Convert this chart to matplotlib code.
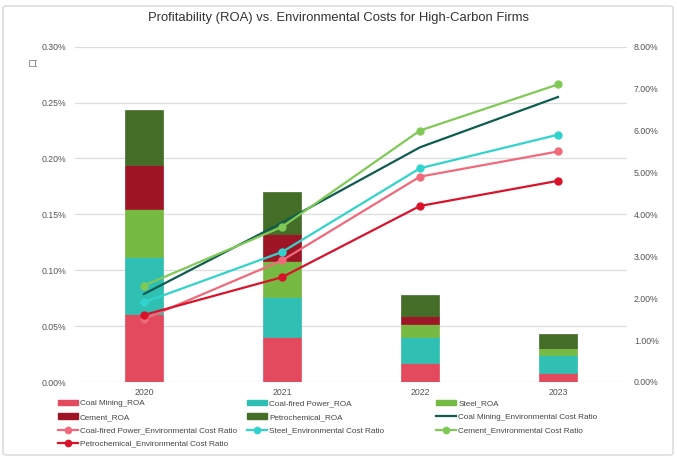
import matplotlib
matplotlib.use("Agg")
import matplotlib.pyplot as plt
from matplotlib.patches import Patch, FancyBboxPatch
from matplotlib.lines import Line2D
from matplotlib.ticker import FuncFormatter, MultipleLocator
import numpy as np

plt.rcParams['font.family'] = ['Liberation Sans', 'DejaVu Sans', 'Noto Sans CJK SC']

years = ["2020", "2021", "2022", "2023"]

# ROA (%), stacked bars, left axis
coal_mining_roa = [0.061, 0.040, 0.017, 0.008]
coal_fired_roa = [0.051, 0.036, 0.023, 0.016]
steel_roa = [0.043, 0.032, 0.012, 0.006]
cement_roa = [0.039, 0.024, 0.007, 0.000]
petro_roa = [0.049, 0.038, 0.019, 0.013]

# Environmental cost ratio (%), lines, right axis
coal_mining_ecr = [2.1, 3.8, 5.6, 6.8]
coal_fired_ecr = [1.5, 2.9, 4.9, 5.5]
steel_ecr = [1.9, 3.1, 5.1, 5.9]
cement_ecr = [2.3, 3.7, 6.0, 7.1]
petro_ecr = [1.6, 2.5, 4.2, 4.8]

bar_series = [
    ("Coal Mining_ROA", coal_mining_roa, "#E34A5E"),
    ("Coal-fired Power_ROA", coal_fired_roa, "#2FBFB3"),
    ("Steel_ROA", steel_roa, "#77BA43"),
    ("Cement_ROA", cement_roa, "#9E1626"),
    ("Petrochemical_ROA", petro_roa, "#446E27"),
]
line_series = [
    ("Coal Mining_Environmental Cost Ratio", coal_mining_ecr, "#0F5C50", None),
    ("Coal-fired Power_Environmental Cost Ratio", coal_fired_ecr, "#F06A7B", "o"),
    ("Steel_Environmental Cost Ratio", steel_ecr, "#33D3CD", "o"),
    ("Cement_Environmental Cost Ratio", cement_ecr, "#80C957", "o"),
    ("Petrochemical_Environmental Cost Ratio", petro_ecr, "#D8132B", "o"),
]

W, H = 677, 459
fig = plt.figure(figsize=(W / 100, H / 100), dpi=100)
fig.patch.set_facecolor("white")
frame = FancyBboxPatch((3 / W, 4 / H), 670 / W, 449 / H, boxstyle="round,pad=0,rounding_size=0.005",
                       transform=fig.transFigure, facecolor="none", edgecolor="#dddddd", linewidth=1.2)
fig.patches.append(frame)

ax = fig.add_axes([75 / W, 1 - 382 / H, 552 / W, (382 - 46.7) / H])
ax2 = ax.twinx()

x = np.arange(len(years))
bottom = np.zeros(len(years))
handles = {}
for name, vals, col in bar_series:
    v = np.array(vals)
    ax.bar(x, v, 0.27, bottom=bottom, color=col, edgecolor=col, linewidth=0.5, zorder=2)
    bottom += v
    handles[name] = Patch(facecolor=col, edgecolor=col)

for name, vals, col, mk in line_series:
    ax2.plot(x, vals, color=col, lw=1.6, marker=mk, markersize=5, zorder=3)
    handles[name] = Line2D([0], [0], color=col, lw=1.6, marker=mk, markersize=4.5)

ax.set_xlim(-0.5, 3.5)
ax.set_ylim(0, 0.30)
ax2.set_ylim(0, 8.0)
ax.yaxis.set_major_locator(MultipleLocator(0.05))
ax2.yaxis.set_major_locator(MultipleLocator(1.0))
ax.yaxis.set_major_formatter(FuncFormatter(lambda v, p: f"{v:.2f}%"))
ax2.yaxis.set_major_formatter(FuncFormatter(lambda v, p: f"{v:.2f}%"))
ax.set_xticks(x)
ax.set_xticklabels(years)

ax.grid(axis="y", color="#dddddd", lw=0.9, zorder=0)
ax.set_axisbelow(True)
for a in (ax, ax2):
    for s in a.spines.values():
        s.set_visible(False)
    a.tick_params(length=0, labelsize=6.3, colors="#555555")
ax.tick_params(axis="y", pad=6)
ax2.tick_params(axis="y", pad=5)
ax.tick_params(axis="x", pad=4)

ax.text((33 - 75) / 552, (382 - 62) / 335.3, "\u53e3", transform=ax.transAxes, rotation=90,
        fontsize=6.5, color="#777777", family=["Noto Sans CJK SC"], ha="center", va="center")

fig.text(0.5, 1 - 18 / H, "Profitability (ROA) vs. Environmental Costs for High-Carbon Firms",
         ha="center", va="center", fontsize=9.4, color="#333333")

columns = [
    (58, ["Coal Mining_ROA", "Cement_ROA", "Coal-fired Power_Environmental Cost Ratio",
          "Petrochemical_Environmental Cost Ratio"]),
    (247, ["Coal-fired Power_ROA", "Petrochemical_ROA", "Steel_Environmental Cost Ratio"]),
    (436, ["Steel_ROA", "Coal Mining_Environmental Cost Ratio", "Cement_Environmental Cost Ratio"]),
]
for xpos, names in columns:
    leg = fig.legend([handles[n] for n in names], names, loc="upper left",
                     bbox_to_anchor=(xpos / W, 1 - 400 / H), frameon=False, fontsize=5.9,
                     handlelength=2.45, handleheight=0.6, handletextpad=0.25,
                     labelspacing=0.72, borderaxespad=0, borderpad=0)
    for t in leg.get_texts():
        t.set_color("#444444")

fig.savefig("out.png", dpi=100)
